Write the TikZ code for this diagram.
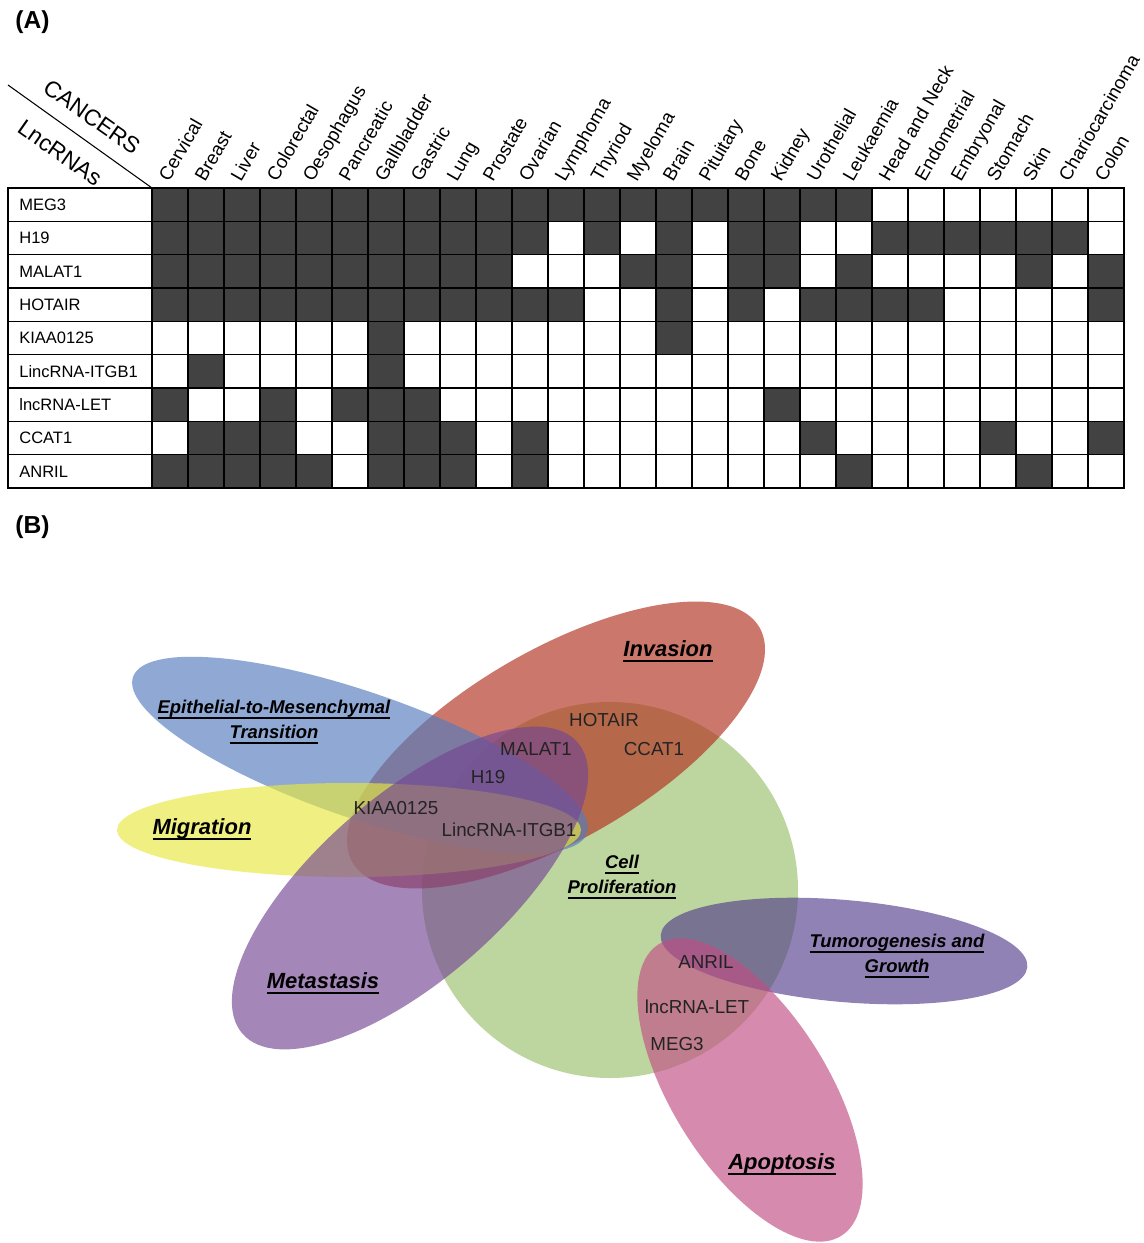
\documentclass[tikz,border=0pt]{standalone}
\usepackage{fontspec}
\setmainfont{Liberation Sans}
\usetikzlibrary{positioning}
\definecolor{cellgray}{RGB}{66,66,66}
\definecolor{emtblue}{RGB}{83,124,190}
\definecolor{invred}{RGB}{178,47,29}
\definecolor{migyellow}{RGB}{232,232,63}
\definecolor{metpurple}{RGB}{117,70,147}
\definecolor{prolgreen}{RGB}{155,193,109}
\definecolor{tumpurple}{RGB}{86,63,140}
\definecolor{apopink}{RGB}{193,78,132}
\definecolor{genetext}{RGB}{35,35,35}
\newcommand{\venul}[1]{\setbox0=\hbox{#1}\rlap{\rule[-3.2pt]{\wd0}{1.1pt}}\box0}

\begin{document}
\begin{tikzpicture}[x=0.02cm, y=-0.02cm,
    rowlab/.style={anchor=west, inner sep=0pt, font=\fontsize{9.4}{11}\selectfont},
    collab/.style={anchor=base west, rotate=60, inner sep=0pt, font=\fontsize{10.7}{12}\selectfont},
    headlab/.style={inner sep=0pt, rotate=-35, font=\fontsize{13}{15}\selectfont},
    panel/.style={anchor=west, inner sep=0pt, font=\fontsize{14}{16}\selectfont\bfseries},
    gene/.style={inner sep=0pt, text=genetext, font=\fontsize{10.7}{13}\selectfont},
    biglab/.style={inner sep=0pt, align=center, font=\fontsize{12.5}{15}\selectfont\bfseries\itshape},
    smalllab/.style={inner sep=0pt, align=center, font=\fontsize{10.5}{14.2}\selectfont\bfseries\itshape},
    blob/.style={fill opacity=0.65}]
    \fill[white] (0,0) rectangle (1143,1243);
    \useasboundingbox (0,0) rectangle (1143,1243);

    % (A) table
    \node[panel] (pa) at (15,22) {(A)};
    \foreach \r/\name/\cols in {1/MEG3/{1,...,20},
        2/H19/{1,2,3,4,5,6,7,8,9,10,11,13,15,17,18,21,22,23,24,25,26},
        3/MALAT1/{1,2,3,4,5,6,7,8,9,10,14,15,17,18,20,25,27},
        4/HOTAIR/{1,2,3,4,5,6,7,8,9,10,11,12,15,17,19,20,21,22,27},
        5/KIAA0125/{7,15},
        6/LincRNA-ITGB1/{2,7},
        7/lncRNA-LET/{1,4,6,7,8,18},
        8/CCAT1/{2,3,4,7,8,9,11,19,24,27},
        9/ANRIL/{1,2,3,4,5,7,8,9,11,20,25}}{
        \foreach \c in \cols
            \fill[cellgray] ({152+36*(\c-1)},{188+33.333*(\r-1)}) rectangle ++(36,33.333);
        \node[rowlab] (row\r) at (19,{188+33.333*(\r-0.5)}) {\name};
    }
    \foreach \k in {1,...,8}
        \draw[line width=0.6pt] (8,{188+33.333*\k}) -- (1124,{188+33.333*\k});
    \foreach \k in {0,...,27}
        \draw[line width=0.6pt] ({152+36*\k},188) -- ({152+36*\k},488);
    \draw[line width=0.7pt] (8,188) rectangle (1124,488);
    \coordinate (corner) at (152,188);
    \coordinate (diagend) at (8,85);
    \draw[line width=0.6pt] (diagend) -- (corner);
    \node[headlab] (cancers) at (92,117) {CANCERS};
    \node[headlab] (lncrnas) at (60,153) {LncRNAs};
    \foreach \name [count=\c] in {Cervical, Breast, Liver, Colorectal, Oesophagus,
        Pancreatic, Gallbladder, Gastric, Lung, Prostate, Ovarian, Lymphoma, Thyriod,
        Myeloma, Brain, Pituitary, Bone, Kidney, Urothelial, Leukaemia, Head and Neck,
        Endometrial, Embryonal, Stomach, Skin, Chariocarcinoma, Colon}
        \node[collab] (col\c) at ({152+36*(\c-0.5)-1},183) {\name};

    % (B) venn
    \node[panel] (pb) at (15,527) {(B)};
    \fill[prolgreen, blob] (610,890) circle [radius=188];
    \fill[invred, blob, rotate around={30:(556,745)}] (556,745) ellipse [x radius=235, y radius=95];
    \fill[emtblue, blob, rotate around={-19:(360,755)}] (360,755) ellipse [x radius=240, y radius=63];
    \fill[migyellow, blob] (349,830) ellipse [x radius=232, y radius=47];
    \fill[metpurple, blob, rotate around={41:(410,888)}] (410,888) ellipse [x radius=222, y radius=92];
    \fill[tumpurple, blob, rotate around={-5:(844,951)}] (844,951) ellipse [x radius=184, y radius=51];
    \fill[apopink, blob, rotate around={-58:(750,1090)}] (750,1090) ellipse [x radius=172, y radius=78];

    \node[smalllab] (emt) at (274,722) {\venul{Epithelial-to-Mesenchymal}\\\venul{Transition}};
    \node[biglab] (invasion) at (668,651) {\venul{Invasion}};
    \node[biglab] (migration) at (202,829) {\venul{Migration}};
    \node[smalllab] (prolif) at (622,877) {\venul{Cell}\\\venul{Proliferation}};
    \node[smalllab] (tumor) at (897,956) {\venul{Tumorogenesis and}\\\venul{Growth}};
    \node[biglab] (metastasis) at (323,983) {\venul{Metastasis}};
    \node[biglab] (apoptosis) at (782,1164) {\venul{Apoptosis}};

    \node[gene] (hotair) at (604,720) {HOTAIR};
    \node[gene] (malat) at (536,749) {MALAT1};
    \node[gene] (ccat) at (654,749) {CCAT1};
    \node[gene] (hnt) at (488,777) {H19};
    \node[gene] (kiaa) at (396,808) {KIAA0125};
    \node[gene] (itgb) at (509,830) {LincRNA-ITGB1};
    \node[gene] (anril) at (706,962) {ANRIL};
    \node[gene] (let) at (697,1007) {lncRNA-LET};
    \node[gene] (meg) at (677,1044) {MEG3};
\end{tikzpicture}
\end{document}
